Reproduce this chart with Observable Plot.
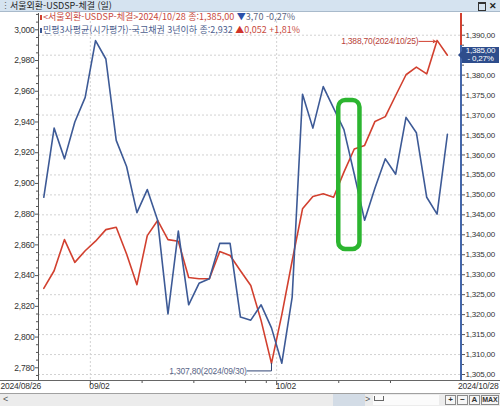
<!DOCTYPE html>
<html lang="ko"><head><meta charset="utf-8">
<script src="https://cdn.jsdelivr.net/npm/d3@7"></script>
<script src="https://cdn.jsdelivr.net/npm/@observablehq/plot@0.6"></script>
<style>
html,body{margin:0;padding:0;background:#fff;}
#wrap{position:relative;width:500px;height:406px;overflow:hidden;background:#fff;font-family:"Noto Sans CJK KR","Noto Sans",sans-serif;}
#wrap svg{position:absolute;left:0;top:0;}
.abs{position:absolute;white-space:nowrap;}
.leg{left:43px;font-size:9px;line-height:11px;transform-origin:0 50%;}
.mk{position:absolute;width:2px;height:5px;}
.btn{position:absolute;top:1px;height:10px;border:1px solid #8a8a8a;background:#f6f6f6;box-sizing:border-box;font-size:8px;line-height:8px;text-align:center;font-weight:bold;color:#333;font-family:"Liberation Sans",sans-serif;}
</style></head>
<body><div id="wrap"></div>
<script>
// ---- data ----
const dates = ["2024/08/26","2024/08/27","2024/08/28","2024/08/29","2024/08/30",
  "2024/09/02","2024/09/03","2024/09/04","2024/09/05","2024/09/06",
  "2024/09/09","2024/09/10","2024/09/11","2024/09/12","2024/09/13",
  "2024/09/19","2024/09/20","2024/09/23","2024/09/24","2024/09/25",
  "2024/09/26","2024/09/27","2024/09/30","2024/10/02","2024/10/04",
  "2024/10/07","2024/10/08","2024/10/10","2024/10/11","2024/10/14",
  "2024/10/15","2024/10/16","2024/10/17","2024/10/18","2024/10/21",
  "2024/10/22","2024/10/23","2024/10/24","2024/10/25","2024/10/28"];
// 서울외환 USD/KRW close (right axis)
const usdkrw = [1326.6,1331.0,1338.8,1333.1,1336.0,
  1338.4,1341.3,1341.9,1335.2,1327.5,
  1339.8,1343.6,1338.8,1338.4,1329.3,
  1329.0,1329.0,1335.8,1334.8,1331.0,
  1327.3,1318.5,1307.8,1320.0,1333.5,
  1346.5,1349.6,1350.3,1349.4,1355.7,
  1361.5,1362.4,1368.4,1369.6,1374.9,
  1380.1,1382.0,1380.3,1388.7,1385.0];
// 국고채권 3년이하 민평3사평균 (left axis)
const ktb3y = [2.891,2.936,2.916,2.940,2.956,
  2.993,2.981,2.928,2.911,2.881,
  2.896,2.876,2.815,2.869,2.821,
  2.835,2.838,2.861,2.861,2.813,
  2.811,2.821,2.806,2.783,2.826,
  2.958,2.936,2.963,2.949,2.935,
  2.906,2.876,2.897,2.916,2.906,
  2.943,2.933,2.891,2.880,2.932];
const leftTicks = [2.78,2.80,2.82,2.84,2.86,2.88,2.90,2.92,2.94,2.96,2.98,3.00];
const rightTicks = [1305,1310,1315,1320,1325,1330,1335,1340,1345,1350,1355,1360,1365,1370,1375,1380,1385,1390];
const xMajorTicks = [{pos:4.5,label:"09/02"},{pos:22.5,label:"10/02"}];
const xMinorTicks = [9.5,14.5,19.5,21.5,28.5,33.5];
const firstLabel = "2024/08/26", lastLabel = "2024/10/28";
const greenBox = [{x1:28.5, x2:30.55, y1:2.857, y2:2.954}];
const titleText = "서울외환-USDSP-체결 (일)";
const redName = "<서울외환-USDSP-체결>";
const blueName = "민평3사평균(시가평가)-국고채권 3년이하";

// ---- scales ----
const xDom = [-0.51, 40.36];
const L = [2.77173, 3.01061];
const R = [1303.5, 1395.44];
const toL = r => L[0] + (r - R[0]) / (R[1] - R[0]) * (L[1] - L[0]);
const fromL = l => R[0] + (l - L[0]) / (L[1] - L[0]) * (R[1] - R[0]);
const cfmt = (v, d) => d3.format(`,.${d}f`)(v).replace(/\.(\d+)$/, ",$1");

const RED = "#d2402f", BLUE = "#3d5a96";
const redData = usdkrw.map((v, i) => ({i, v: toL(v), raw: v}));
const blueData = ktb3y.map((v, i) => ({i, v}));
const maxI = d3.maxIndex(usdkrw), minI = d3.minIndex(usdkrw);
const lastR = usdkrw[usdkrw.length - 1], prevR = usdkrw[usdkrw.length - 2];
const minorLeft = d3.range(2.775, 3.0101, 0.005).filter(t => !leftTicks.some(m => Math.abs(m - t) < 1e-6));
const minorRight = rightTicks.map(t => t + 2.5).filter(t => t < 1395);
const axFont = `"Liberation Sans",Arial,sans-serif`;

const chart = Plot.plot({
  width: 500, height: 394,
  marginTop: 13, marginBottom: 14, marginLeft: 38, marginRight: 39,
  x: {type: "linear", domain: xDom, axis: null},
  y: {type: "linear", domain: L},
  style: {background: "transparent", overflow: "visible", fontFamily: axFont, fontSize: "8px", color: "#333", letterSpacing: "-0.2px"},
  marks: [
    // grid
    Plot.ruleY(rightTicks, {y: d => toL(d), stroke: "#d2d2d2", strokeDasharray: "2,2", strokeWidth: 1}),
    Plot.ruleX(xMajorTicks, {x: "pos", stroke: "#d2d2d2", strokeDasharray: "2,2", strokeWidth: 1}),
    // left axis
    Plot.ruleX([xDom[0]], {stroke: "#555", strokeWidth: 1}),
    Plot.axisY({anchor: "left", ticks: leftTicks, tickSize: 3, tickPadding: 1, tickFormat: d => cfmt(d, 3), fontSize: 8.5, stroke: "#555", fill: "#333"}),
    Plot.axisY({anchor: "left", ticks: minorLeft, tickSize: 2, tickFormat: () => "", stroke: "#555"}),
    // right axis (the label at the current value is hidden by the value tag)
    Plot.axisY({anchor: "right", ticks: rightTicks.map(toL), tickSize: 3, tickPadding: 1,
      tickFormat: d => { const v = Math.round(fromL(d)); return Math.abs(v - lastR) < 2 ? "" : cfmt(v, 2); },
      fontSize: 8, stroke: "#555", fill: "#333"}),
    Plot.axisY({anchor: "right", ticks: minorRight.map(toL), tickSize: 2, tickFormat: () => "", stroke: "#555"}),
    // x ticks
    Plot.axisX({anchor: "bottom", ticks: xMajorTicks.map(d => d.pos), tickSize: 5, tickFormat: () => "", stroke: "#555"}),
    Plot.axisX({anchor: "bottom", ticks: xMinorTicks, tickSize: 3, tickFormat: () => "", stroke: "#555"}),
    Plot.text(xMajorTicks, {x: "pos", text: "label", frameAnchor: "bottom", textAnchor: "start", dy: 8, dx: -1, fill: "#333", fontSize: 8.5}),
    Plot.text([firstLabel], {x: xDom[0], text: d => d, frameAnchor: "bottom", textAnchor: "start", dx: -38, dy: 8, fill: "#333", fontSize: 8.5}),
    Plot.text([lastLabel], {x: xDom[1], text: d => d, frameAnchor: "bottom", textAnchor: "end", dx: 37, dy: 8, fill: "#333", fontSize: 8.5}),
    // series
    Plot.line(redData, {x: "i", y: "v", stroke: RED, strokeWidth: 1.6}),
    Plot.line(blueData, {x: "i", y: "v", stroke: BLUE, strokeWidth: 1.6}),
    // max annotation
    Plot.arrow([redData[maxI]], {x1: d => d.i - 1.75, x2: d => d.i - 0.15, y1: "v", y2: "v", stroke: RED, strokeWidth: 1, headLength: 4, dy: 1}),
    Plot.text([redData[maxI]], {x: d => d.i - 1.8, y: "v", dy: 1, text: d => `${cfmt(d.raw, 2)}(${dates[d.i]})`, textAnchor: "end", fill: "#b8423a", fontSize: 8.5}),
    // min annotation
    Plot.line([[minI - 2.35, toL(usdkrw[minI] - 1.9)], [minI, toL(usdkrw[minI] - 1.9)], [minI, toL(usdkrw[minI])]], {stroke: "#2f4273", strokeWidth: 1}),
    Plot.text([redData[minI]], {x: d => d.i - 2.4, y: d => toL(d.raw - 1.9), text: d => `${cfmt(d.raw, 2)}(${dates[d.i]})`, textAnchor: "end", fill: "#5a6688", fontSize: 8.5}),
    // highlight box
    Plot.rect(greenBox, {x1: "x1", x2: "x2", y1: "y1", y2: "y2", stroke: "#2cb530", strokeWidth: 4.5, fill: "none", rx: 7})
  ]
});

const wrap = document.getElementById("wrap");
wrap.appendChild(chart);

function el(html, cls, style) {
  const d = document.createElement("div");
  d.className = "abs " + (cls || "");
  if (style) d.setAttribute("style", style);
  d.innerHTML = html;
  wrap.appendChild(d);
  return d;
}
// right axis colored line
el("", "", "left:460px;top:13px;width:2px;height:32px;background:" + RED);
el("", "", "left:460px;top:45px;width:2px;height:335px;background:#4466aa");
// bottom chrome
el("", "", "left:0;top:380px;width:500px;height:1px;background:#666");
el("", "", "left:0;top:393px;width:500px;height:1px;background:#a0a0a0");
const sc = el("", "", "left:0;top:394px;width:500px;height:12px;background:#ececec;");
sc.innerHTML = `<span style="position:absolute;left:3px;top:0;font-size:9px;line-height:11px;color:#555;font-family:Liberation Sans,sans-serif">&lt;</span>
<div style="position:absolute;left:333px;top:0;width:32px;height:12px;background:#d3dce6"></div>
<span style="position:absolute;left:365px;top:0;font-size:9px;line-height:11px;color:#555;font-family:Liberation Sans,sans-serif">&gt;</span>
<div style="position:absolute;left:373px;top:1px;width:66px;height:10px;background:#fbfbfb"></div>
<div style="position:absolute;left:374px;top:2px;width:8px;height:4px;border:1px solid #666;border-top:none"></div>
<div class="btn" style="left:445px;width:11px">+</div>
<div class="btn" style="left:457px;width:11px">−</div>
<div class="btn" style="left:469px;width:11px">A</div>
<div class="btn" style="left:481px;width:18px;font-size:7px">MAX</div>`;

// title bar
el("", "", "left:0;top:0;width:500px;height:12px;background:#d5e3f0;border-bottom:1px solid #a9bacb;box-sizing:border-box");
el("⋮", "", "left:1px;top:0;font-size:9px;line-height:11px;color:#666");
el(titleText, "", "left:10px;top:0;font-size:9px;line-height:11px;color:#1e1e1e");
el("", "", "left:478px;top:2px;width:6px;height:6px;border:1px solid #333;border-top-width:2px");
el("✕", "", "left:489px;top:0;font-size:8.5px;line-height:11px;color:#222;font-weight:bold");

// legend
const chR = lastR - prevR, pcR = chR / prevR * 100;
const lastB = ktb3y[ktb3y.length - 1], prevB = ktb3y[ktb3y.length - 2];
const chB = lastB - prevB, pcB = chB / prevB * 100;
const lastDate = dates[dates.length - 1];
el("", "mk", `left:40px;top:14.5px;background:${RED}`);
el("", "mk", `left:40px;top:27.5px;background:${BLUE}`);
const leg1 = el(`<span style="color:#c84a3e">${redName}${lastDate} 종:${cfmt(lastR, 2)}</span> <span style="color:#2a4fa8">${chR < 0 ? "▼" : "▲"}</span><span style="color:#5b6682">${cfmt(Math.abs(chR), 2)} ${chR < 0 ? "-" : "+"}${cfmt(Math.abs(pcR), 2)}%</span>`, "leg", "top:11.2px");
const leg2 = el(`<span style="color:#4c5e8e">${blueName} 종:${cfmt(lastB, 3)}</span> <span style="color:#d0342a">${chB < 0 ? "▼" : "▲"}</span><span style="color:#c84a3e">${cfmt(Math.abs(chB), 3)} ${chB < 0 ? "-" : "+"}${cfmt(Math.abs(pcB), 2)}%</span>`, "leg", "top:24.4px");
// squeeze legend lines to the narrow HTS font widths
[[leg1, 252], [leg2, 257]].forEach(([d, w]) => {
  const cw = d.getBoundingClientRect().width;
  if (cw > 0) d.style.transform = `scaleX(${w / cw})`;
});

// current-value tag on right axis, placed with the chart's y scale
const yLast = chart.scale("y").apply(toL(lastR));
el(`${cfmt(lastR, 2)}<br>- ${cfmt(Math.abs(pcR), 2)}%`, "", `left:462px;top:${yLast - 8}px;width:37px;height:16px;background:#2e4d8c;color:#fff;font-size:8px;line-height:8px;text-align:center;letter-spacing:-0.2px;font-family:'Liberation Sans',sans-serif`);
el("", "", `left:458px;top:${yLast - 4}px;width:0;height:0;border-top:4px solid transparent;border-bottom:4px solid transparent;border-right:4px solid #2e4d8c`);
</script>
</body></html>
